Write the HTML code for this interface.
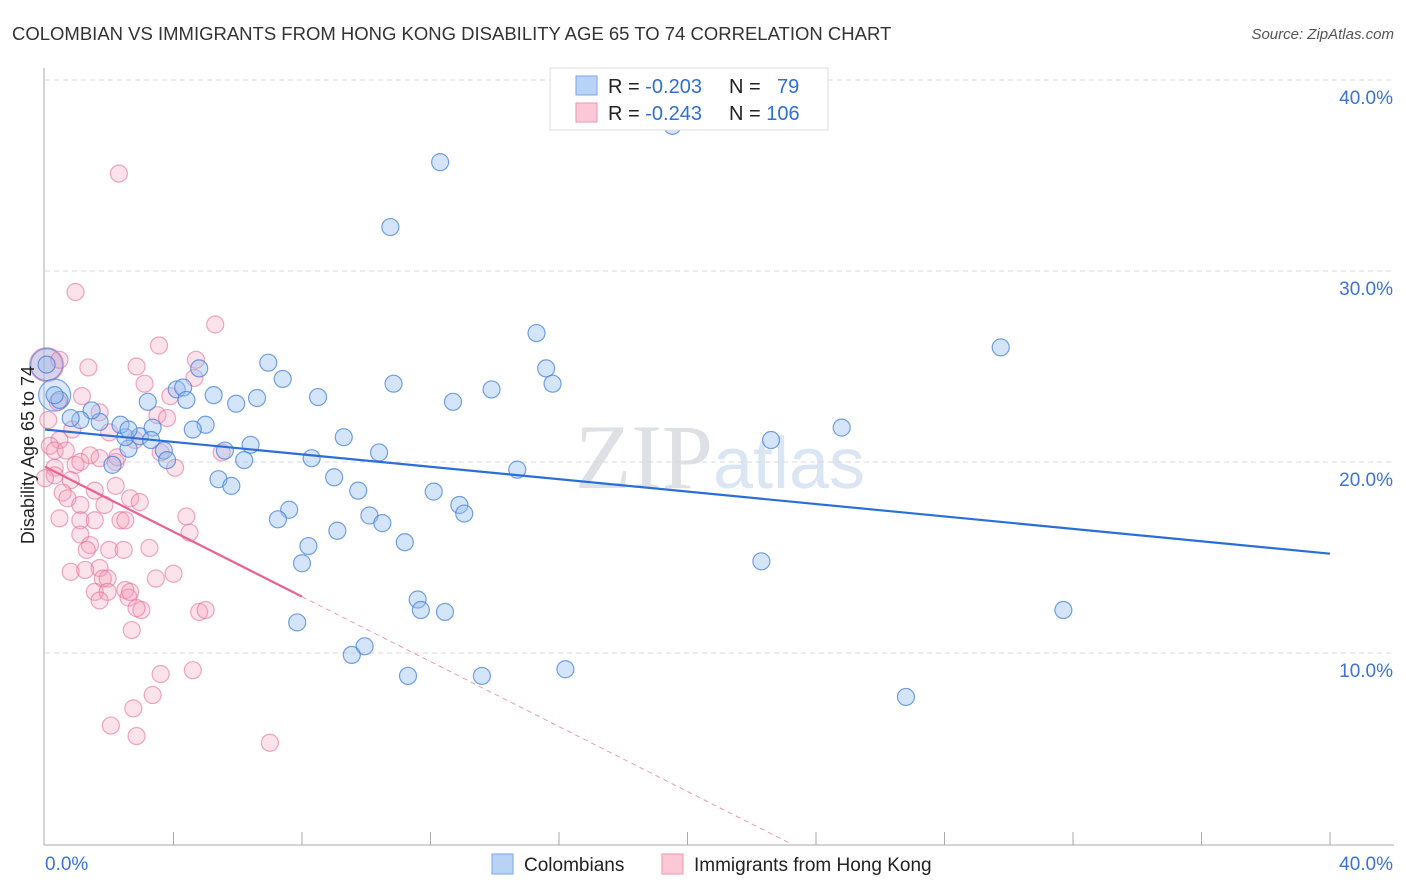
<!DOCTYPE html>
<html><head><meta charset="utf-8"><style>
body{margin:0;background:#fff;font-family:"Liberation Sans",sans-serif;}
#wrap{position:relative;width:1406px;height:892px;overflow:hidden;}
</style></head><body>
<div id="wrap">
<svg id="svg" width="1406" height="892" xmlns="http://www.w3.org/2000/svg">
<text x="12" y="40" font-size="18.5" fill="#333">COLOMBIAN VS IMMIGRANTS FROM HONG KONG DISABILITY AGE 65 TO 74 CORRELATION CHART</text>
<text x="1394" y="39" font-size="15" fill="#555" font-style="italic" text-anchor="end">Source: ZipAtlas.com</text>
<text x="720" y="488" font-size="92" fill="#e4e7ec" text-anchor="middle" font-family="Liberation Serif,serif"><tspan fill="#dde0e4">ZIP</tspan><tspan font-family="Liberation Sans,sans-serif" fill="#dbe6f5" font-size="72">atlas</tspan></text>
<g id="grid"></g>
<g id="axes"></g>
<g id="pts"></g>
<g id="trend"></g>
<text transform="translate(34,455) rotate(-90)" font-size="18" fill="#222" text-anchor="middle">Disability Age 65 to 74</text>
<g>
<rect x="550" y="68" width="278" height="62" fill="#fff" stroke="#ddd"/>
<rect x="576" y="76" width="21" height="19" fill="#b9d3f6" stroke="#7aa6e6"/>
<rect x="576" y="103" width="21" height="19" fill="#fbc8d6" stroke="#ef93ae"/>
<text x="608" y="93" font-size="20" fill="#222">R = <tspan fill="#2f6fd6">-0.203</tspan></text>
<text x="729" y="93" font-size="20" fill="#222">N = <tspan fill="#2f6fd6" x="777">79</tspan></text>
<text x="608" y="120" font-size="20" fill="#222">R = <tspan fill="#2f6fd6">-0.243</tspan></text>
<text x="729" y="120" font-size="20" fill="#222">N = <tspan fill="#2f6fd6">106</tspan></text>
</g>
<g>
<rect x="492" y="854" width="21" height="20" fill="#b9d3f6" stroke="#7aa6e6"/>
<text x="524" y="871" font-size="19" fill="#222">Colombians</text>
<rect x="662" y="854" width="21" height="20" fill="#fbc8d6" stroke="#ef93ae"/>
<text x="694" y="871" font-size="19" fill="#222">Immigrants from Hong Kong</text>
</g>
</svg>
</div>
<script>
const yTicks=[10,20,30,40];
const yTickLabels=["10.0%","20.0%","30.0%","40.0%"];
const xTickLabels=["0.0%","40.0%"];
const blueX=[19.53,12.3,10.75,15.3,29.75,6.95,7.4,15.6,15.8,10.85,13.9,4.1,4.3,4.8,5.25,4.4,6.6,8.5,5.95,12.7,3.2,5.0,4.6,22.6,24.8,9.3,10.4,8.3,6.2,5.6,6.4,14.7,3.7,3.8,2.1,2.6,2.5,2.95,3.35,2.35,1.7,1.45,1.1,0.8,0.45,0.3,0.05,5.4,5.8,9.0,9.75,12.1,12.9,13.05,10.1,10.5,7.6,7.25,11.2,8.2,9.1,8.0,22.3,11.6,11.7,12.45,31.7,7.85,9.95,9.55,11.3,13.6,16.2,26.8,2.6,3.3];
const blueY=[37.6,35.7,32.3,26.75,26.0,25.2,24.35,24.9,24.1,24.1,23.8,23.8,23.9,24.9,23.5,23.25,23.35,23.4,23.05,23.15,23.15,21.95,21.7,21.15,21.8,21.3,20.5,20.2,20.1,20.6,20.9,19.6,20.6,20.1,19.85,20.7,21.3,21.35,21.8,21.95,22.1,22.7,22.2,22.3,23.25,23.5,25.1,19.1,18.75,19.2,18.5,18.45,17.75,17.3,17.2,16.8,17.5,17.0,15.8,15.6,16.4,14.7,14.8,12.8,12.25,12.15,12.25,11.6,10.35,9.9,8.8,8.8,9.15,7.7,21.7,21.15];
const blueBig=[[0.05,25.1],[0.3,23.5]];
const pinkX=[2.3,0.95,5.3,3.55,4.7,2.85,1.35,4.65,3.1,1.15,3.9,0.4,1.7,3.5,3.8,0.85,0.45,2.0,2.8,0.15,0.3,0.65,1.4,0.95,0.3,1.1,1.7,2.2,3.6,4.05,5.5,0.3,0.8,0.0,0.55,0.7,1.55,2.65,2.95,2.2,1.85,1.1,2.35,0.45,1.1,1.55,2.5,4.4,4.5,1.1,1.4,1.3,2.0,2.45,3.25,0.8,1.7,1.8,1.95,3.45,4.0,1.55,1.95,2.5,2.6,3.0,2.85,4.8,5.0,1.7,2.7,3.6,4.6,3.35,2.75,2.05,2.85,7.0,0.45,0.1,2.65,1.25,2.25];
const pinkY=[35.1,28.9,27.2,26.1,25.35,25.0,24.95,24.4,24.1,23.45,23.45,23.15,22.6,22.45,22.3,21.7,21.15,21.55,21.15,20.85,20.6,20.6,20.35,19.85,19.7,20.0,20.2,20.0,20.5,19.7,20.5,19.3,19.05,19.15,18.4,18.1,18.5,18.1,17.9,18.75,17.75,17.75,16.95,17.05,16.95,16.95,16.95,17.15,16.3,16.2,15.65,15.4,15.4,15.4,15.5,14.25,14.45,13.9,13.9,13.9,14.15,13.2,13.2,13.3,12.9,12.25,12.35,12.15,12.25,12.75,11.2,8.9,9.1,7.8,7.1,6.2,5.65,5.3,25.35,22.2,13.2,14.35,20.25];
const pinkBig=[[0.05,25.1]];
const blueTrend=[21.7,15.2];   // y at x=0 and x=40
const pinkTrend=[19.75,-0.85]; // intercept, slope per 1%
const pinkSolidEnd=8;

const X=v=>45+v*32.125, Y=v=>844-v*19.1;
const NS="http://www.w3.org/2000/svg";
function mk(tag,attrs,parent){const e=document.createElementNS(NS,tag);for(const k in attrs)e.setAttribute(k,attrs[k]);document.getElementById(parent).appendChild(e);return e;}
yTicks.forEach((t,i)=>{
 const l=mk('line',{x1:45,x2:1394,y1:Y(t),y2:Y(t),stroke:'#d8d8d8','stroke-dasharray':'5,4'},'grid');
 
 
 const tx=mk('text',{x:1393,y:Y(t)+24,'font-size':19,fill:'#3a74d6','text-anchor':'end'},'grid');
 tx.textContent=yTickLabels[i];
 
 
});
let a=mk('line',{x1:44,x2:44,y1:68,y2:845,stroke:'#aaa'},'axes');


a=mk('line',{x1:44,x2:1394,y1:845,y2:845,stroke:'#aaa'},'axes');


for(let i=1;i<=10;i++){const t=mk('line',{x1:X(i*4),x2:X(i*4),y1:832,y2:845,stroke:'#aaa'},'axes');
 
 }
let xl=mk('text',{x:45,y:870,'font-size':19,fill:'#3a74d6'},'axes');xl.textContent=xTickLabels[0];


xl=mk('text',{x:1393,y:870,'font-size':19,fill:'#3a74d6','text-anchor':'end'},'axes');xl.textContent=xTickLabels[1];


function dot(x,y,r,fill,stroke,name){const c=mk('circle',{cx:X(x),cy:Y(y),r:r,fill:fill,stroke:stroke,'stroke-width':1.2},'pts');
 
 }
pinkBig.forEach(p=>dot(p[0],p[1],17,'rgba(245,160,185,0.35)','rgba(232,110,150,0.6)','point-hongkong'));
blueBig.forEach(p=>dot(p[0],p[1],16,'rgba(150,190,240,0.35)','rgba(70,130,220,0.7)','point-colombian'));
pinkX.forEach((x,i)=>dot(x,pinkY[i],8.5,'rgba(245,160,185,0.3)','rgba(232,110,150,0.6)','point-hongkong'));
blueX.forEach((x,i)=>dot(x,blueY[i],8.5,'rgba(150,190,240,0.4)','rgba(70,130,220,0.75)','point-colombian'));
let tl=mk('line',{x1:X(0),y1:Y(blueTrend[0]),x2:X(40),y2:Y(blueTrend[1]),stroke:'#2a6fd8','stroke-width':2.2},'trend');


const pz=-pinkTrend[0]/pinkTrend[1];
tl=mk('line',{x1:X(0),y1:Y(pinkTrend[0]),x2:X(pinkSolidEnd),y2:Y(pinkTrend[0]+pinkTrend[1]*pinkSolidEnd),stroke:'#e8648f','stroke-width':2.2},'trend');


tl=mk('line',{x1:X(pinkSolidEnd),y1:Y(pinkTrend[0]+pinkTrend[1]*pinkSolidEnd),x2:X(pz),y2:Y(0),stroke:'#ef9ab5','stroke-width':1,'stroke-dasharray':'5,4'},'trend');


</script>
</body></html>
